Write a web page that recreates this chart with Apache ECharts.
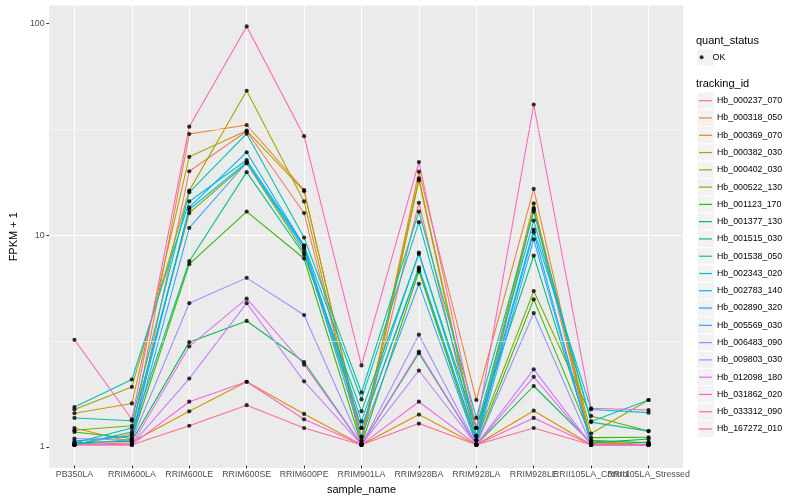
<!DOCTYPE html>
<html>
<head>
<meta charset="utf-8">
<script src="https://cdn.jsdelivr.net/npm/echarts@6/dist/echarts.min.js"></script>
<style>html,body{margin:0;padding:0;background:#fff}#c{width:800px;height:500px}</style>
</head>
<body>
<div id="c"></div>
<script>
// ---------------- data ----------------
const categories = ['PB350LA','RRIM600LA','RRIM600LE','RRIM600SE','RRIM600PE','RRIM901LA','RRIM928BA','RRIM928LA','RRIM928LE','RRII105LA_Control','RRII105LA_Stressed'];
const yTicks = [1, 10, 100];
const quantStatus = ['OK'];
const trackingIds = ['Hb_000237_070','Hb_000318_050','Hb_000369_070','Hb_000382_030','Hb_000402_030','Hb_000522_130','Hb_001123_170','Hb_001377_130','Hb_001515_030','Hb_001538_050','Hb_002343_020','Hb_002783_140','Hb_002890_320','Hb_005569_030','Hb_006483_090','Hb_009803_030','Hb_012098_180','Hb_031862_020','Hb_033312_090','Hb_167272_010'];

const Hb_000237_070 = [1.00, 1.02, 19.9, 30.8, 12.6, 1.03, 14.1, 1.00, 13.1, 1.00, 1.00];
const Hb_000318_050 = [1.00, 1.12, 29.9, 33.0, 16.2, 1.05, 19.8, 1.63, 16.4, 1.02, 1.00];
const Hb_000369_070 = [1.20, 1.03, 1.44, 1.99, 1.40, 1.00, 1.39, 1.00, 1.45, 1.00, 1.03];
const Hb_000382_030 = [1.41, 1.57, 23.3, 31.0, 16.0, 1.09, 18.4, 1.10, 14.0, 1.04, 1.00];
const Hb_000402_030 = [1.47, 1.88, 16.1, 48.0, 14.3, 1.00, 18.0, 1.05, 13.3, 1.13, 1.63];
const Hb_000522_130 = [1.17, 1.23, 12.6, 21.7, 8.2, 1.20, 6.82, 1.05, 5.37, 1.37, 1.16];
const Hb_001123_170 = [1.15, 1.07, 7.2, 12.8, 7.66, 1.00, 6.66, 1.00, 4.9, 1.08, 1.085];
const Hb_001377_130 = [1.02, 1.04, 3.07, 3.87, 2.47, 1.00, 2.72, 1.00, 1.9, 1.02, 1.065];
const Hb_001515_030 = [1.00, 1.15, 7.44, 19.7, 7.98, 1.44, 8.05, 1.20, 7.9, 1.05, 1.02];
const Hb_001538_050 = [1.34, 1.30, 15.8, 30.0, 9.63, 1.77, 12.8, 1.34, 12.8, 1.28, 1.16];
const Hb_002343_020 = [1.51, 2.04, 14.3, 22.5, 8.85, 1.64, 11.4, 1.20, 11.6, 1.29, 1.63];
const Hb_002783_140 = [1.02, 1.20, 13.1, 22.0, 8.7, 1.29, 8.17, 1.10, 10.5, 1.47, 1.42];
const Hb_002890_320 = [1.04, 1.10, 13.4, 24.5, 8.78, 1.20, 6.96, 1.05, 10.2, 1.00, 1.00];
const Hb_005569_030 = [1.00, 1.06, 10.7, 21.9, 8.5, 1.09, 5.81, 1.00, 9.45, 1.00, 1.00];
const Hb_006483_090 = [1.07, 1.05, 4.7, 6.2, 4.13, 1.00, 3.33, 1.00, 4.22, 1.00, 1.00];
const Hb_009803_030 = [1.00, 1.00, 2.06, 4.70, 2.00, 1.00, 2.25, 1.00, 2.28, 1.00, 1.00];
const Hb_012098_180 = [1.00, 1.00, 2.93, 4.94, 2.40, 1.00, 2.77, 1.00, 2.10, 1.00, 1.00];
const Hb_031862_020 = [1.00, 1.00, 1.60, 1.99, 1.32, 1.00, 1.60, 1.00, 1.34, 1.00, 1.00];
const Hb_033312_090 = [3.15, 1.32, 32.4, 97.0, 29.2, 2.38, 22.0, 1.20, 41.3, 1.49, 1.46];
const Hb_167272_010 = [1.00, 1.00, 1.23, 1.54, 1.20, 1.00, 1.26, 1.00, 1.20, 1.00, 1.00];

const seriesValues = [Hb_000237_070, Hb_000318_050, Hb_000369_070, Hb_000382_030, Hb_000402_030,
  Hb_000522_130, Hb_001123_170, Hb_001377_130, Hb_001515_030, Hb_001538_050, Hb_002343_020,
  Hb_002783_140, Hb_002890_320, Hb_005569_030, Hb_006483_090, Hb_009803_030, Hb_012098_180,
  Hb_031862_020, Hb_033312_090, Hb_167272_010];

// ---------------- style ----------------
const palette = ['#F8766D','#EA8331','#D89000','#C09B00','#A3A500','#7CAE00','#39B600','#00BB4E','#00BF7D','#00C1A3','#00BFC4','#00BAE0','#00B0F6','#35A2FF','#9590FF','#C77CFF','#E76BF3','#FA62DB','#FF62BC','#FF6C91'];
const FONT = '"Liberation Sans", Arimo, Arial, Helvetica, sans-serif';
const panel = {left: 40, top: 5.5, width: 643, height: 462.5};

// ggplot-like expansion of the log scale (5% each side)
const allVals = seriesValues.flat();
const lo = Math.log10(Math.min(...allVals)), hi = Math.log10(Math.max(...allVals));
const pad = 0.05 * (hi - lo);
const yMin = Math.pow(10, lo - pad), yMax = Math.pow(10, hi + pad);
const minorLines = [Math.pow(10, 0.5), Math.pow(10, 1.5)];

// discrete x expansion (0.6 units each side)
const unit = panel.width / (categories.length - 1 + 1.2);

const points = [];
seriesValues.forEach(vals => vals.forEach((v, j) => points.push([j, v])));

const KEY = 17.28;
const keyTop = 92.06;
const graphic = [
  {type: 'text', x: 696, y: 40.7, style: {text: 'quant_status', fontSize: 11, fontFamily: FONT, fill: '#000', verticalAlign: 'middle'}},
  {type: 'rect', shape: {x: 697, y: 48.7, width: KEY, height: KEY}, style: {fill: '#F2F2F2', stroke: '#fff', lineWidth: 1}},
  {type: 'text', x: 696, y: 84.3, style: {text: 'tracking_id', fontSize: 11, fontFamily: FONT, fill: '#000', verticalAlign: 'middle'}}
];
trackingIds.forEach((id, i) => graphic.push({type: 'rect', shape: {x: 697, y: keyTop + KEY * i, width: KEY, height: KEY}, style: {fill: '#F2F2F2', stroke: '#fff', lineWidth: 1}}));

const chart = echarts.init(document.getElementById('c'), null, {renderer: 'canvas'});
chart.setOption({
  animation: false,
  textStyle: {fontFamily: FONT},
  grid: [
    {left: panel.left, top: panel.top, width: panel.width, height: panel.height, show: true, backgroundColor: '#EBEBEB', borderWidth: 0},
    {left: panel.left + 0.6 * unit, top: panel.top, width: unit * (categories.length - 1), height: panel.height, show: false}
  ],
  xAxis: [
    {gridIndex: 0, type: 'value', min: 0, max: 1, show: false},
    {gridIndex: 1, type: 'category', data: categories, boundaryGap: false,
     axisLine: {show: false},
     axisTick: {show: true, length: 2.75, lineStyle: {color: '#333333', width: 1}},
     axisLabel: {interval: 0, fontSize: 8.8, color: '#4D4D4D', margin: 4.5, fontFamily: FONT},
     splitLine: {show: true, lineStyle: {color: '#FFFFFF', width: 1.07}},
     name: 'sample_name', nameLocation: 'middle', nameGap: 14,
     nameTextStyle: {fontSize: 11, color: '#000', fontFamily: FONT}}
  ],
  yAxis: [
    {gridIndex: 0, type: 'log', logBase: 10, min: yMin, max: yMax,
     axisLine: {show: false},
     axisTick: {show: true, length: 2.75, lineStyle: {color: '#333333', width: 1}, customValues: yTicks},
     axisLabel: {fontSize: 8.8, color: '#4D4D4D', margin: 4.5, fontFamily: FONT, customValues: yTicks,
       formatter: v => yTicks.some(t => Math.abs(t - v) < 1e-6 * t) ? String(Math.round(v)) : ''},
     splitLine: {show: true, showMinLine: false, showMaxLine: false, lineStyle: {color: '#FFFFFF', width: 1.07}},
     name: 'FPKM + 1', nameLocation: 'middle', nameGap: 26,
     nameTextStyle: {fontSize: 11, color: '#000', fontFamily: FONT}},
    {gridIndex: 1, type: 'log', logBase: 10, min: yMin, max: yMax, show: false}
  ],
  legend: [
    {data: quantStatus, orient: 'vertical', left: 699.6, top: 48.7, padding: 0, itemGap: 0,
     itemWidth: 12, itemHeight: 4, icon: 'circle', selectedMode: false,
     textStyle: {fontSize: 8.8, color: '#000', fontFamily: FONT, lineHeight: KEY}},
    {data: trackingIds, orient: 'vertical', left: 699, top: keyTop, padding: 0, itemGap: 0,
     itemWidth: 13, itemHeight: 1.2, icon: 'rect', selectedMode: false,
     textStyle: {fontSize: 8.8, color: '#000', fontFamily: FONT, lineHeight: KEY}}
  ],
  graphic: graphic,
  series: [
    {type: 'line', xAxisIndex: 0, yAxisIndex: 0, data: [], silent: true, z: 1,
     markLine: {silent: true, symbol: ['none', 'none'], label: {show: false},
       lineStyle: {color: '#FFFFFF', width: 0.53, type: 'solid'},
       emphasis: {disabled: true},
       data: minorLines.map(v => ({yAxis: v}))}}
  ].concat(trackingIds.map((id, i) => ({
    name: id, type: 'line', xAxisIndex: 1, yAxisIndex: 1, data: seriesValues[i],
    showSymbol: false, symbol: 'none', silent: true, z: 2,
    lineStyle: {width: 1.07, color: palette[i]}, itemStyle: {color: palette[i]},
    emphasis: {disabled: true}
  }))).concat([
    {name: 'OK', type: 'scatter', xAxisIndex: 1, yAxisIndex: 1, data: points,
     symbol: 'circle', symbolSize: 4.2, itemStyle: {color: '#000'}, z: 5, silent: true}
  ])
});
</script>
</body>
</html>
